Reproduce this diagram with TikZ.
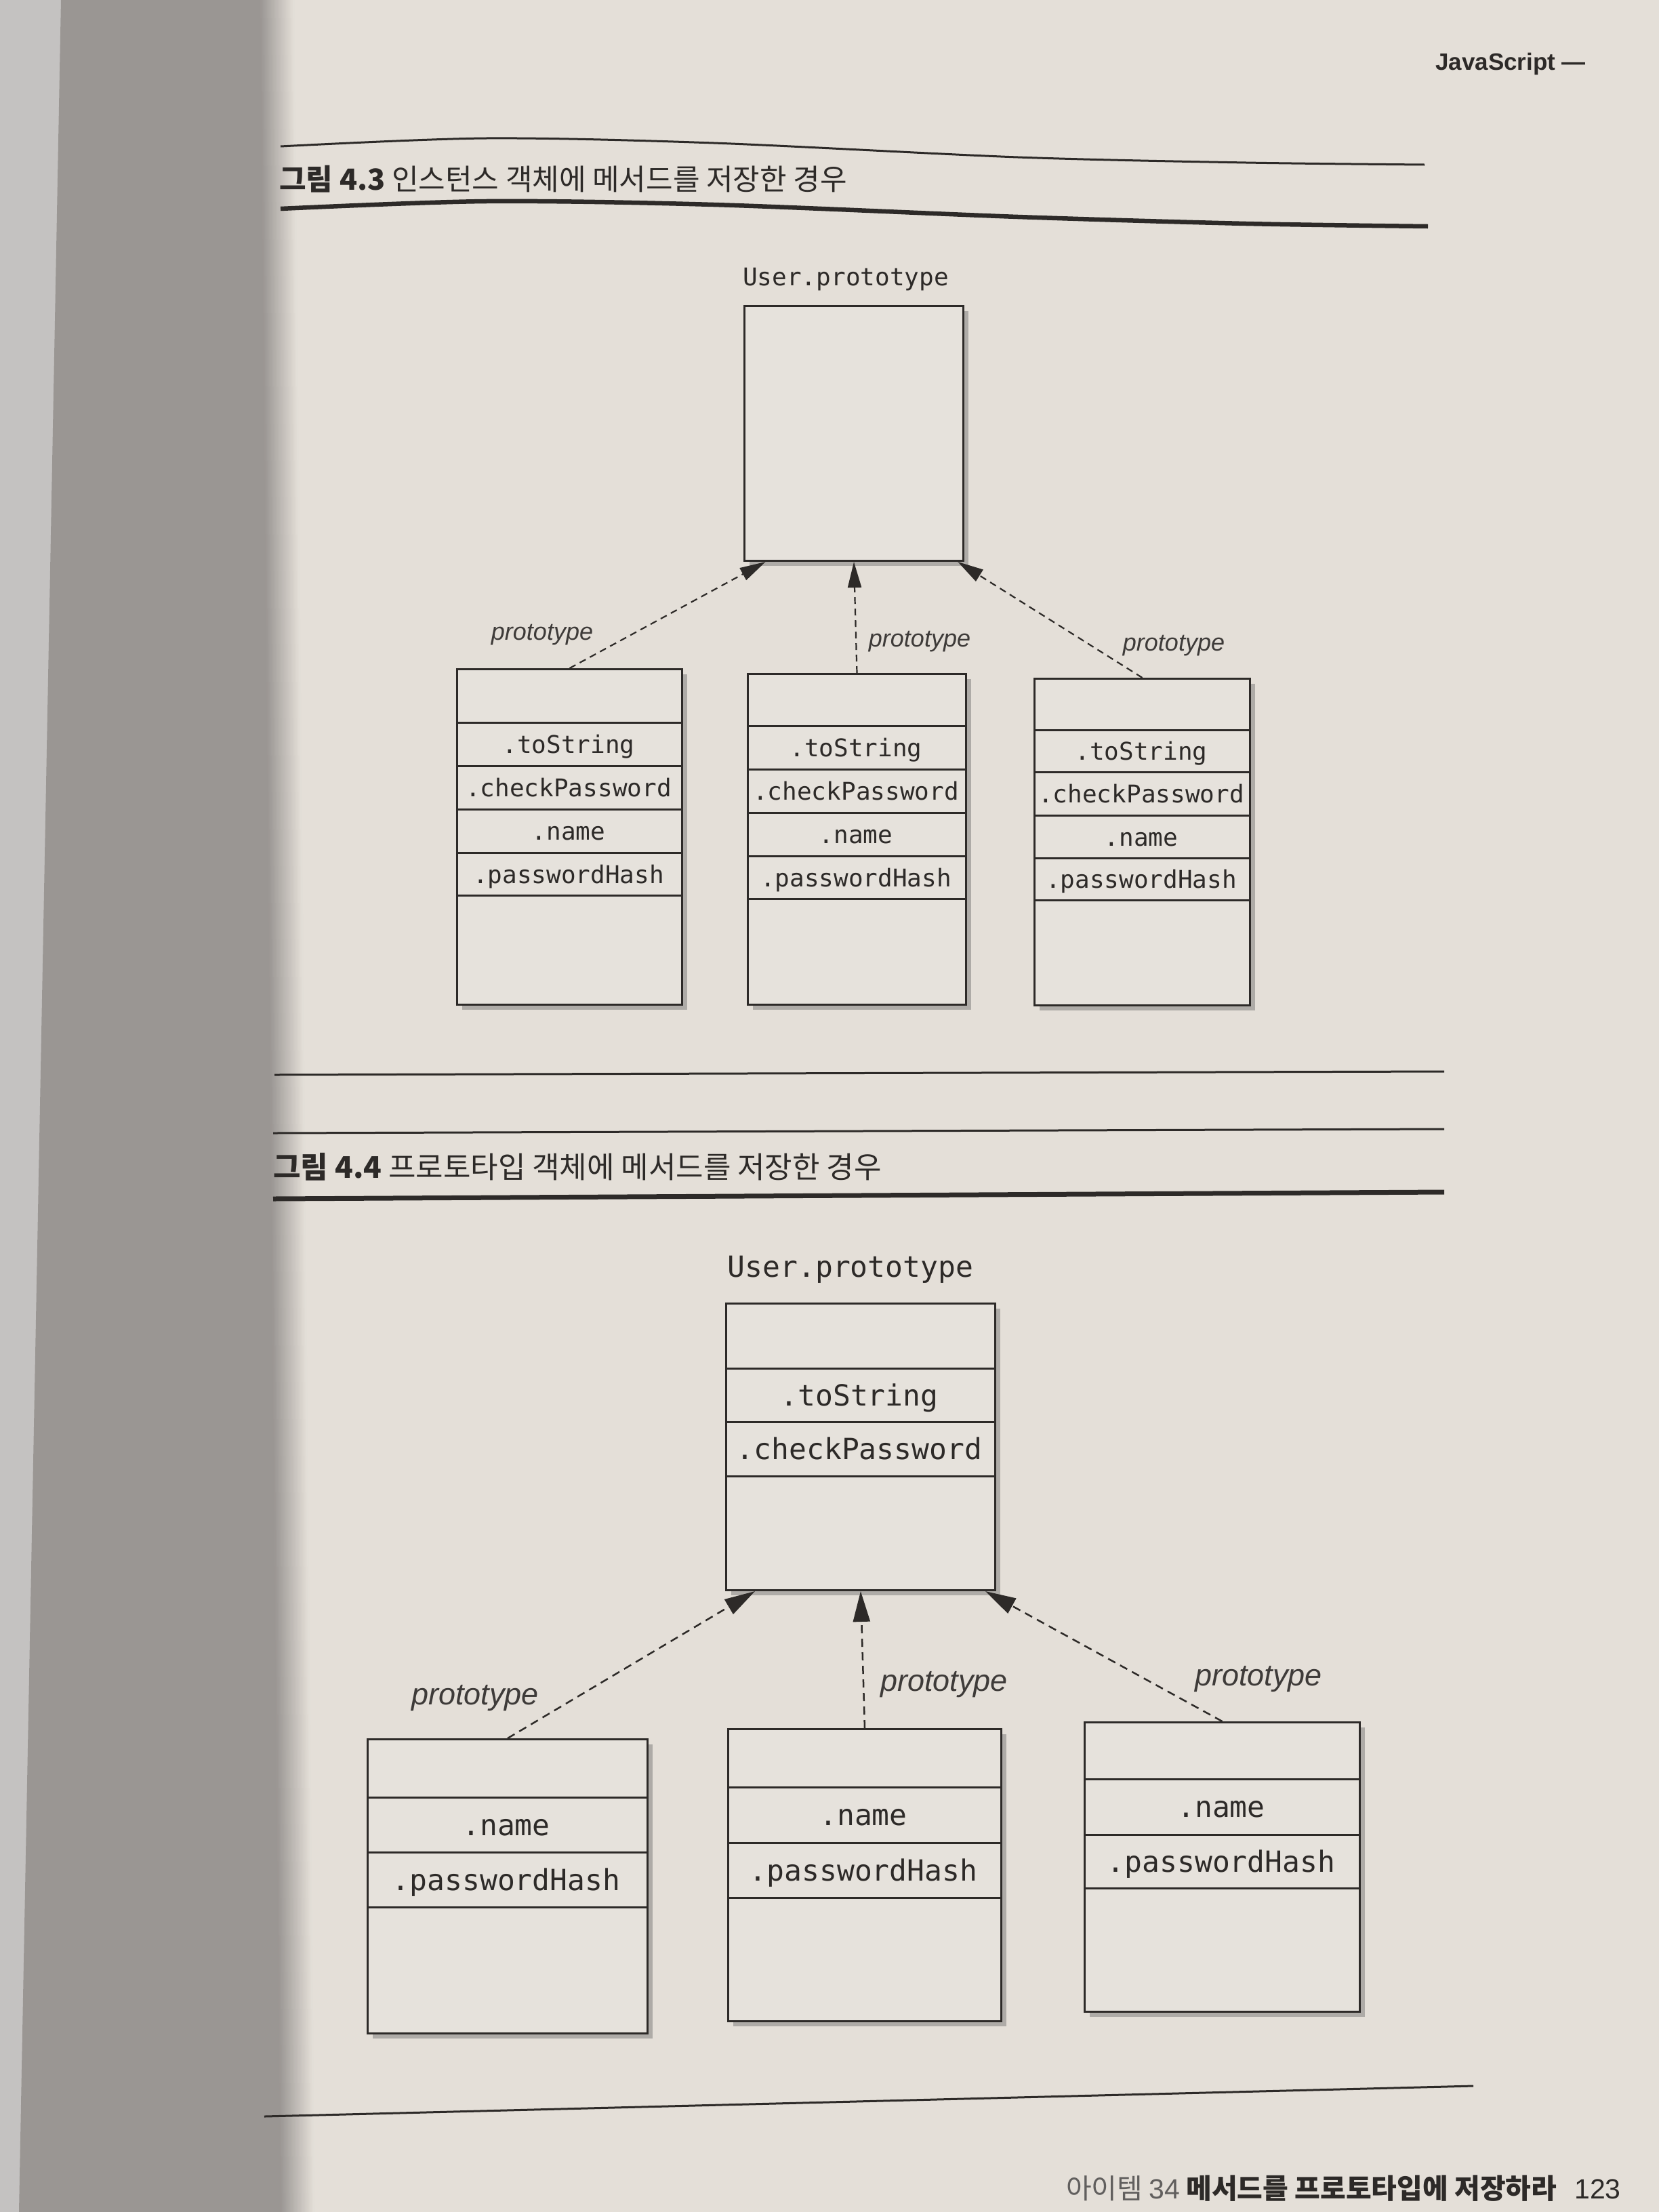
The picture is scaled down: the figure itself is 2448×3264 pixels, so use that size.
\documentclass[tikz,border=0pt]{standalone}
\usepackage{fontspec}
\setmainfont{Liberation Sans}
\newfontfamily\kr{Noto Sans CJK KR}
\newfontfamily\mono{DejaVu Sans Mono}
\usetikzlibrary{arrows.meta,shadows,calc}
\definecolor{page}{RGB}{228,223,216}
\definecolor{boxfill}{RGB}{230,226,220}
\definecolor{leftpage}{RGB}{196,194,193}
\definecolor{gutter}{RGB}{154,150,147}
\definecolor{ink}{RGB}{45,42,40}
\begin{document}
\begin{tikzpicture}[x=1pt,y=-1pt,
  objbox/.style={draw=ink, line width=3pt, fill=boxfill, inner sep=0pt, anchor=north west,
    drop shadow={shadow xshift=7pt, shadow yshift=-7pt, opacity=0.35, fill=black!70}},
  rowline/.style={draw=ink, line width=3pt},
  memA/.style={font=\mono\fontsize{36}{40}\selectfont, text=ink, inner sep=0pt, anchor=base},
  memB/.style={font=\mono\fontsize{43}{48}\selectfont, text=ink, inner sep=0pt, anchor=base},
  labA/.style={font=\itshape\fontsize{36}{40}\selectfont, text=ink!92, inner sep=0pt},
  labB/.style={font=\itshape\fontsize{45}{50}\selectfont, text=ink!92, inner sep=0pt},
  protoA/.style={draw=ink, line width=2.2pt, dash pattern=on 10pt off 7pt, -{Triangle[length=38pt,width=20pt]}},
  protoB/.style={draw=ink, line width=2.5pt, dash pattern=on 12pt off 8pt, -{Triangle[length=45pt,width=25pt]}},
  thinrule/.style={draw=ink, line width=3pt},
  thickrule/.style={draw=ink, line width=6.5pt},
  titletext/.style={text=ink, inner sep=0pt, anchor=base west},
]
\useasboundingbox (0,0) rectangle (2448,3264);
% page background
\fill[page] (0,0) rectangle (2448,3264);
\fill[leftpage] (0,0) -- (92,0) -- (30,3264) -- (0,3264) -- cycle;
\fill[gutter] (90,0) -- (386,0) -- (416,3264) -- (28,3264) -- cycle;
\foreach \i in {0,...,24}{
  \pgfmathsetmacro\pc{98-4*\i}
  \fill[gutter!\pc!page] (384+2*\i,0) -- (386.6+2*\i,0) -- (416.6+2*\i,3264) -- (414+2*\i,3264) -- cycle;
}

% running head
\node[font=\bfseries\fontsize{35}{40}\selectfont, text=ink, inner sep=0pt, anchor=base west] (hdr) at (2118,103) {JavaScript —};

% ===== Figure 4.3 =====
\draw[thinrule] plot[smooth] coordinates {(414,216) (717,204) (1053,211) (1502,232) (1839,240) (2102,243)};
\node[titletext, font=\kr\fontsize{43}{50}\selectfont] (t43) at (412,280) {\textbf{그림 4.3} 인스턴스 객체에 메서드를 저장한 경우};
\draw[thickrule] plot[smooth] coordinates {(414,308) (717,297) (1053,302) (1502,320) (1839,330) (2107,334)};

\node[memA] (U3lab) at (1248,421) {User.prototype};
\node[objbox, minimum width=323pt, minimum height=376pt] (U3) at (1097,450) {};

\node[objbox, minimum width=332pt, minimum height=495pt] (A) at (673,986) {};
\foreach \yy in {1066,1130,1194,1258,1321} \draw[rowline] (A.west |- 0,\yy) -- (A.east |- 0,\yy);
\node[memA] (A1) at (839,1111) {.toString};
\node[memA] (A2) at (839,1175) {.checkPassword};
\node[memA] (A3) at (839,1239) {.name};
\node[memA] (A4) at (839,1303) {.passwordHash};

\node[objbox, minimum width=322pt, minimum height=488pt] (B) at (1102,993) {};
\foreach \yy in {1071,1135,1199,1263,1326} \draw[rowline] (B.west |- 0,\yy) -- (B.east |- 0,\yy);
\node[memA] (B1) at (1263,1116) {.toString};
\node[memA] (B2) at (1263,1180) {.checkPassword};
\node[memA] (B3) at (1263,1244) {.name};
\node[memA] (B4) at (1263,1308) {.passwordHash};

\node[objbox, minimum width=318pt, minimum height=482pt] (C) at (1525,1000) {};
\foreach \yy in {1077,1139,1203,1266,1328} \draw[rowline] (C.west |- 0,\yy) -- (C.east |- 0,\yy);
\node[memA] (C1) at (1684,1121) {.toString};
\node[memA] (C2) at (1684,1184) {.checkPassword};
\node[memA] (C3) at (1684,1248) {.name};
\node[memA] (C4) at (1684,1310) {.passwordHash};

\draw[protoA] (A.north) -- ($(U3.south west)!0.10!(U3.south east)$);
\draw[protoA] (B.north) -- (U3.south);
\draw[protoA] (C.north) -- ($(U3.south west)!0.97!(U3.south east)$);
\node[labA] (pA) at (800,937) {prototype};
\node[labA] (pB) at (1357,947) {prototype};
\node[labA] (pC) at (1732,953) {prototype};

\draw[thinrule] (405,1586) -- (2131,1581);

% ===== Figure 4.4 =====
\draw[thinrule] (403,1672) -- (2131,1666);
\node[titletext, font=\kr\fontsize{44}{50}\selectfont] (t44) at (403,1738) {\textbf{그림 4.4} 프로토타입 객체에 메서드를 저장한 경우};
\draw[draw=ink, line width=7pt] (403,1769) -- (2131,1759);

\node[memB] (U4lab) at (1255,1884) {User.prototype};
\node[objbox, minimum width=397pt, minimum height=423pt] (U4) at (1070,1922) {};
\foreach \yy in {2019,2098,2178} \draw[rowline] (U4.west |- 0,\yy) -- (U4.east |- 0,\yy);
\node[memB] (U41) at (1268,2074) {.toString};
\node[memB] (U42) at (1268,2153) {.checkPassword};

\node[objbox, minimum width=413pt, minimum height=434pt] (D) at (541,2565) {};
\foreach \yy in {2652,2733,2814} \draw[rowline] (D.west |- 0,\yy) -- (D.east |- 0,\yy);
\node[memB] (D1) at (747,2708) {.name};
\node[memB] (D2) at (747,2789) {.passwordHash};

\node[objbox, minimum width=403pt, minimum height=431pt] (E) at (1073,2550) {};
\foreach \yy in {2637,2719,2800} \draw[rowline] (E.west |- 0,\yy) -- (E.east |- 0,\yy);
\node[memB] (E1) at (1274,2693) {.name};
\node[memB] (E2) at (1274,2775) {.passwordHash};

\node[objbox, minimum width=406pt, minimum height=427pt] (F) at (1599,2540) {};
\foreach \yy in {2625,2707,2786} \draw[rowline] (F.west |- 0,\yy) -- (F.east |- 0,\yy);
\node[memB] (F1) at (1802,2681) {.name};
\node[memB] (F2) at (1802,2762) {.passwordHash};

\draw[protoB] (D.north) -- ($(U4.south west)!0.11!(U4.south east)$);
\draw[protoB] (E.north) -- (U4.south);
\draw[protoB] (F.north) -- ($(U4.south west)!0.96!(U4.south east)$);
\node[labB] (pD) at (701,2506) {prototype};
\node[labB] (pE) at (1393,2486) {prototype};
\node[labB] (pF) at (1857,2478) {prototype};

% footer
\draw[thinrule] (390,3123) -- (2174,3078);
\node[font=\kr\fontsize{41}{46}\selectfont, text=ink, inner sep=0pt, anchor=base west] (foot) at (1573,3244)
  {{\color{ink!75}아이템 {\rmfamily 34}} \textbf{메서드를 프로토타입에 저장하라}\hspace{26pt}{\rmfamily 123}};
\end{tikzpicture}
\end{document}
